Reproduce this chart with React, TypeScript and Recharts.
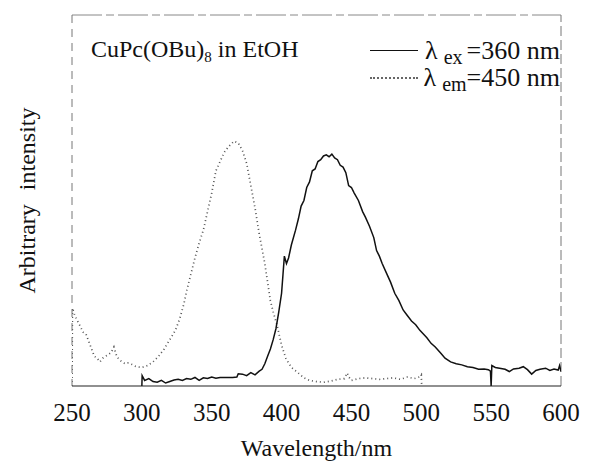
import React from 'react';
import { LineChart, Line, XAxis, YAxis, Legend, ReferenceLine } from 'recharts';

const xTicks = [250, 300, 350, 400, 450, 500, 550, 600];

// Excitation spectrum (monitored at λem = 450 nm) — dotted curve
const excNm = [250, 250.3, 252, 254, 256, 258, 260, 262, 264, 266, 268, 270, 272, 274, 276, 278, 280, 282, 284, 286, 288, 290, 293, 296, 300, 304, 308, 312, 316, 320, 324, 327, 330, 332, 335, 338, 341, 344, 347, 350, 353, 356, 359, 362, 366, 369, 372, 375, 378, 381, 384, 386, 388, 390, 392, 394, 397, 400, 403, 407, 411, 416, 420, 425, 430, 435, 440, 445, 447, 448, 450, 455, 460, 465, 470, 475, 480, 485, 490, 495, 499, 500, 500.3];
const excI = [0, 21, 19, 17.5, 16, 14.5, 14, 12, 10, 8, 7.5, 6.5, 7.5, 8, 8.5, 9, 10.5, 8, 7, 6.5, 6, 6.2, 5.8, 5.2, 5, 5.5, 6.5, 8, 10, 12.5, 15, 18, 22, 25.5, 30, 34.5, 38.5, 42, 47, 52, 58, 60.5, 63, 64.5, 66, 65.5, 63.5, 60, 54, 48, 41, 37, 33, 28, 23, 20, 16, 11, 7.5, 5, 3.8, 2.2, 1.5, 1.2, 1, 1.3, 1.8, 2, 3.5, 2.5, 1.5, 2, 2.2, 2, 1.8, 2, 2.2, 1.8, 2.4, 2, 2.5, 3, 0];

// Emission spectrum (excited at λex = 360 nm) — solid curve
const emNm = [300, 300.2, 302, 305, 308, 311, 314, 317, 320, 323, 326, 329, 332, 335, 338, 341, 344, 347, 350, 353, 356, 360, 365, 368, 369, 372, 375, 378, 381, 384, 386, 388, 390, 392, 394, 396, 398, 400, 401, 402, 403.5, 405, 407, 410, 412, 414, 416, 418, 420, 422, 424, 426, 428, 430, 432, 434, 436, 438, 440, 442, 444, 446, 448, 450, 452, 455, 458, 460, 463, 466, 468, 470, 472, 475, 478, 481, 484, 487, 490, 493, 496, 499, 501, 504, 507, 510, 514, 517, 521, 525, 529, 533, 537, 541, 545, 548, 549.5, 550, 550.5, 553, 556, 560, 563, 566, 570, 573, 576, 579, 582, 585, 589, 592, 595, 598, 599, 600];
const emI = [0, 2.8, 1.5, 2, 1.2, 1, 1.5, 0.8, 1.2, 1.6, 1.8, 1.5, 2, 1.8, 2.3, 1.5, 2.2, 2, 2.4, 2.1, 2.3, 2.3, 2.3, 2.4, 3.3, 3.2, 2.8, 3.6, 3, 4, 4.5, 6, 8, 10, 12.5, 15.5, 20, 25, 30, 35, 33, 34.5, 38, 42, 45, 48.5, 50, 53.5, 55, 58, 58.5, 60.5, 61, 62, 62.3, 61.8, 62.5, 61.5, 61, 59.5, 59, 57.5, 54, 53.5, 52, 50, 47, 45.5, 43, 40, 36.5, 35, 33, 30.5, 28, 25, 23, 20.5, 19, 17.5, 16.5, 15, 14.2, 13, 11.5, 10.5, 8.8, 7.5, 6.5, 6, 5.7, 5.2, 5, 4.5, 4.6, 4.4, 4, 0, 5.5, 5, 4.8, 4.5, 3.9, 4.6, 4.8, 5.2, 4.4, 3.2, 4.2, 4.5, 4.8, 4.2, 4.6, 4.3, 5.5, 3.9];

const excData = excNm.map((nm, i) => ({ nm, v: excI[i] }));
const emData = emNm.map((nm, i) => ({ nm, v: emI[i] }));

const serif = '"Times New Roman", "Liberation Serif", Times, serif';

const LegendBox = () => (
  <div style={{ position: 'relative', width: 591, height: 100, fontFamily: serif, color: '#111', pointerEvents: 'none' }}>
    <div style={{ position: 'absolute', left: 91, top: 37, fontSize: 24, lineHeight: '24px', whiteSpace: 'nowrap' }}>
      CuPc(OBu)<span style={{ fontSize: 15, position: 'relative', top: 5 }}>8</span> in EtOH
    </div>
    <div style={{ position: 'absolute', left: 370, top: 50, width: 48, borderTop: '1px solid #111' }} />
    <div style={{ position: 'absolute', right: 31, top: 38, fontSize: 26, lineHeight: '26px', whiteSpace: 'nowrap' }}>
      λ<span style={{ fontSize: 20, position: 'relative', top: 5, marginLeft: 6, marginRight: 4 }}>ex</span>=360 nm
    </div>
    <div style={{ position: 'absolute', left: 370, top: 77, width: 48, borderTop: '2px dotted #666' }} />
    <div style={{ position: 'absolute', right: 31, top: 65, fontSize: 26, lineHeight: '26px', whiteSpace: 'nowrap' }}>
      λ<span style={{ fontSize: 20, position: 'relative', top: 5, marginLeft: 6 }}>em</span>=450 nm
    </div>
  </div>
);

const YLabel = (props: any) => {
  const vb = props.viewBox || { x: 0, y: 15, width: 72, height: 371 };
  const cx = vb.x + 35;
  const cy = vb.y + vb.height / 2;
  return (
    <text x={cx} y={cy} transform={`rotate(-90 ${cx} ${cy})`} textAnchor="middle" fontSize={24} fill="#111" style={{ wordSpacing: 8, fontFamily: serif }}>
      Arbitrary intensity
    </text>
  );
};

const XTick = (props: any) => {
  const { x, y, payload } = props;
  return (
    <text x={x} y={y + 27} textAnchor="middle" fontSize={25} fill="#111" style={{ fontFamily: serif }}>
      {payload.value}
    </text>
  );
};

const XLabel = (props: any) => {
  const vb = props.viewBox || { x: 72, y: 386, width: 489, height: 75 };
  const cx = vb.x + vb.width / 2;
  return (
    <text x={cx} y={vb.y + 70} textAnchor="middle" fontSize={24} fill="#111" style={{ fontFamily: serif }}>
      Wavelength/nm
    </text>
  );
};

export default function App() {
  return (
    <div style={{ width: 591, height: 461, background: '#fff', position: 'relative', fontFamily: serif }}>
      <style>{`body{margin:0;background:#fff} .recharts-wrapper, .recharts-wrapper text{font-family:${serif}}`}</style>
      <LineChart width={591} height={461} margin={{ top: 15, right: 30, bottom: 0, left: 0 }} style={{ fontFamily: serif }}>
        <XAxis
          xAxisId="bottom"
          type="number"
          dataKey="nm"
          domain={[250, 600]}
          ticks={xTicks}
          allowDataOverflow
          height={75}
          tickLine={false}
          axisLine={{ stroke: '#222', strokeWidth: 1.2 }}
          tick={<XTick />}
          label={{ content: XLabel }}
        />
        <YAxis
          yAxisId="left"
          type="number"
          domain={[0, 100]}
          width={72}
          tick={false}
          tickLine={false}
          axisLine={{ stroke: '#777', strokeDasharray: '8 6' }}
          label={{ content: YLabel }}
        />
        <ReferenceLine xAxisId="bottom" yAxisId="left" y={100} stroke="#888" strokeDasharray="30 4 8 4" />
        <ReferenceLine xAxisId="bottom" yAxisId="left" x={600} stroke="#777" strokeDasharray="10 4" />
        <Legend
          verticalAlign="middle"
          align="center"
          layout="horizontal"
          content={LegendBox}
          wrapperStyle={{ position: 'absolute', top: 0, left: 0, width: 591, height: 100 }}
        />
        <Line
          name="λem=450 nm"
          data={excData}
          dataKey="v"
          xAxisId="bottom"
          yAxisId="left"
          type="linear"
          stroke="#555"
          strokeWidth={1.7}
          strokeDasharray="1 3"
          dot={false}
          isAnimationActive={false}
        />
        <Line
          name="λex=360 nm"
          data={emData}
          dataKey="v"
          xAxisId="bottom"
          yAxisId="left"
          type="linear"
          stroke="#111"
          strokeWidth={1.5}
          dot={false}
          isAnimationActive={false}
        />
      </LineChart>
    </div>
  );
}
